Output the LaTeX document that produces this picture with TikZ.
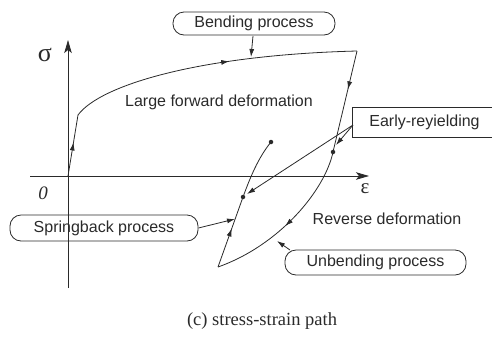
\documentclass[tikz,border=0pt]{standalone}
\usepackage{fontspec}
\setmainfont{Liberation Serif}
\newfontfamily\labelfont{Liberation Sans}
\usetikzlibrary{arrows.meta,decorations.markings}

\definecolor{ink}{HTML}{2A2A2A}

\tikzset{
  curve/.style={draw=ink, line width=0.8pt},
  arrowat/.style={postaction={decorate,decoration={markings,
      mark=at position #1 with {\arrow[ink]{Latex[length=8pt,width=5pt]}}}}},
  leader/.style={draw=ink, line width=0.8pt, -{Latex[length=8pt,width=5pt]}},
  axis/.style={draw=ink, line width=0.8pt, -{Stealth[length=13pt,width=7.5pt,inset=3pt]}},
  pill/.style={draw=ink, line width=0.8pt, rounded corners=11pt, inner sep=0pt,
      font=\labelfont\fontsize{16}{19}\selectfont, text=ink},
  plain/.style={inner sep=0pt, font=\labelfont\fontsize{16}{19}\selectfont, text=ink},
  dot/.style={circle, fill=ink, inner sep=0pt, minimum size=4.5pt},
}

\begin{document}
\begin{tikzpicture}[x=1pt, y=-1pt]
\useasboundingbox (0,0) rectangle (492,338);

% axes
\coordinate (yb) at (68,288);
\coordinate (yt) at (68,40);
\coordinate (xl) at (30,176);
\coordinate (xr) at (369,176);
\draw[axis] (yb) -- (yt);
\draw[axis] (xl) -- (xr);
\node[text=ink, font=\fontsize{26}{26}\selectfont] (sig) at (45,55) {σ};
\node[text=ink, font=\fontsize{21}{21}\selectfont] (eps) at (365,189) {ε};
\node[text=ink, font=\itshape\fontsize{19}{19}\selectfont] (zero) at (43,193) {0};

% path points
\coordinate (O)  at (68,176);
\coordinate (k1) at (78,115);
\coordinate (c1) at (357,51);
\node[dot] (d1) at (333,152) {};
\coordinate (b)  at (218,267);
\node[dot] (d2) at (243,197) {};
\node[dot] (d3) at (271,142) {};

% loading, unloading and reloading path
\draw[curve, arrowat=0.55] (O) -- (k1);
\draw[curve, arrowat=0.56] (k1) .. controls (100,85) and (200,55) .. (c1);
\draw[curve, arrowat=0.38] (c1) -- (d1.center);
\draw[curve, arrowat=0.53] (d1.center) .. controls (325,190) and (280,245) .. (b);
\draw[curve, arrowat=0.55] (b) -- (d2.center);
\draw[curve] (d2.center) .. controls (250,178) and (258,158) .. (d3.center);

% region labels
\node[plain] (lfd) at (219,102) {Large forward deformation};
\node[plain] (rev) at (387,219) {Reverse deformation};

% process labels
\node[pill, minimum width=162pt, minimum height=23pt] (bend) at (254,23.5) {Bending process};
\node[pill, minimum width=188pt, minimum height=26pt] (spring) at (104,228) {Springback process};
\node[pill, minimum width=181pt, minimum height=25pt] (unbend) at (375.5,262.5) {Unbending process};
\node[plain, minimum width=143pt, minimum height=29pt] (early) at (424.5,122.5) {Early-reyielding};
\draw[draw=ink, line width=0.8pt] (early.north east) -- (early.north west)
  -- (early.south west) -- (early.south east);

% leader targets
\coordinate (tb) at (251,57);
\coordinate (ts) at (235,219);
\coordinate (tu) at (277,241);
\coordinate (te1) at (336,145);
\coordinate (te2) at (247,194);
\coordinate (eb) at (353,125);

\draw[leader] (253,36) -- (tb);
\draw[leader] (spring.east) -- (ts);
\draw[leader] (290,250) -- (tu);
\draw[leader] (eb) -- (te1);
\draw[leader] (eb) -- (te2);

% caption
\node[text=ink, font=\fontsize{18.5}{20}\selectfont] (cap) at (262,321) {(c) stress-strain path};
\end{tikzpicture}
\end{document}
